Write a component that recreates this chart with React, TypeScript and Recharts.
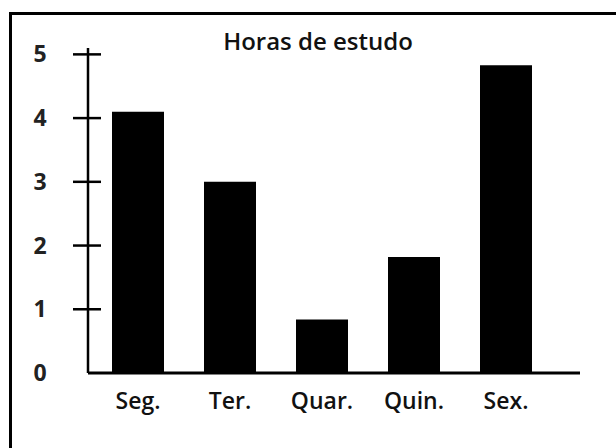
import React from 'react';
import { BarChart, Bar, XAxis, YAxis } from 'recharts';

// dias da semana e horas de estudo
const DIAS = ['Seg.', 'Ter.', 'Quar.', 'Quin.', 'Sex.'];
const HORAS = [4.1, 3.0, 0.84, 1.82, 4.83];
const Y_TICKS = [0, 1, 2, 3, 4, 5];
const TITULO = 'Horas de estudo';

const FONT = '"Open Sans", sans-serif';

const data = DIAS.map((dia, i) => ({ dia, horas: HORAS[i] }));

// tick do eixo Y: traço que cruza o eixo + número em negrito
const YTick = (props: any) => {
    const { x, y, payload } = props;
    return (
        <g>
            {payload.value !== 0 && (
                <line x1={x - 15} x2={x + 13} y1={y} y2={y} stroke="#000" strokeWidth={2.5} />
            )}
            <text
                x={x - 48}
                y={y}
                dy={8}
                textAnchor="middle"
                fontFamily={FONT}
                fontSize={23}
                fontWeight={700}
                fill="#222"
            >
                {payload.value}
            </text>
        </g>
    );
};

const XTick = (props: any) => {
    const { x, y, payload } = props;
    return (
        <text x={x} y={y + 36} textAnchor="middle" fontFamily={FONT} fontSize={23} fontWeight={600} fill="#111">
            {payload.value}
        </text>
    );
};

export default function App() {
    return (
        <div
            style={{
                position: 'absolute',
                left: 0,
                top: 0,
                width: 616,
                height: 448,
                background: '#fff',
                overflow: 'hidden',
            }}
        >
            {/* moldura cortada (só borda de cima e da esquerda aparecem) */}
            <div
                style={{
                    position: 'absolute',
                    left: 9,
                    top: 12,
                    width: 640,
                    height: 480,
                    borderLeft: '3px solid #000',
                    borderTop: '3px solid #000',
                }}
            />
            <div
                style={{
                    position: 'absolute',
                    left: 208,
                    top: 25,
                    width: 220,
                    textAlign: 'center',
                    fontFamily: FONT,
                    fontSize: 24,
                    fontWeight: 600,
                    lineHeight: '32px',
                    color: '#111',
                }}
            >
                {TITULO}
            </div>
            <div style={{ position: 'absolute', left: 0, top: 0 }}>
                <BarChart
                    width={616}
                    height={448}
                    data={data}
                    margin={{ top: 48, right: 36, bottom: 0, left: 8 }}
                    barCategoryGap={0}
                >
                    <XAxis
                        dataKey="dia"
                        axisLine={{ stroke: '#000', strokeWidth: 3 }}
                        tickLine={false}
                        tickSize={0}
                        tickMargin={0}
                        padding={{ left: 4, right: 28 }}
                        tick={<XTick />}
                        height={75}
                        interval={0}
                    />
                    <YAxis
                        width={80}
                        domain={[0, 5.1]}
                        ticks={Y_TICKS}
                        axisLine={{ stroke: '#000', strokeWidth: 2.5 }}
                        tickLine={false}
                        tickSize={0}
                        tickMargin={0}
                        tick={<YTick />}
                        interval={0}
                    />
                    <Bar dataKey="horas" fill="#000" barSize={52} isAnimationActive={false} />
                </BarChart>
            </div>
        </div>
    );
}
